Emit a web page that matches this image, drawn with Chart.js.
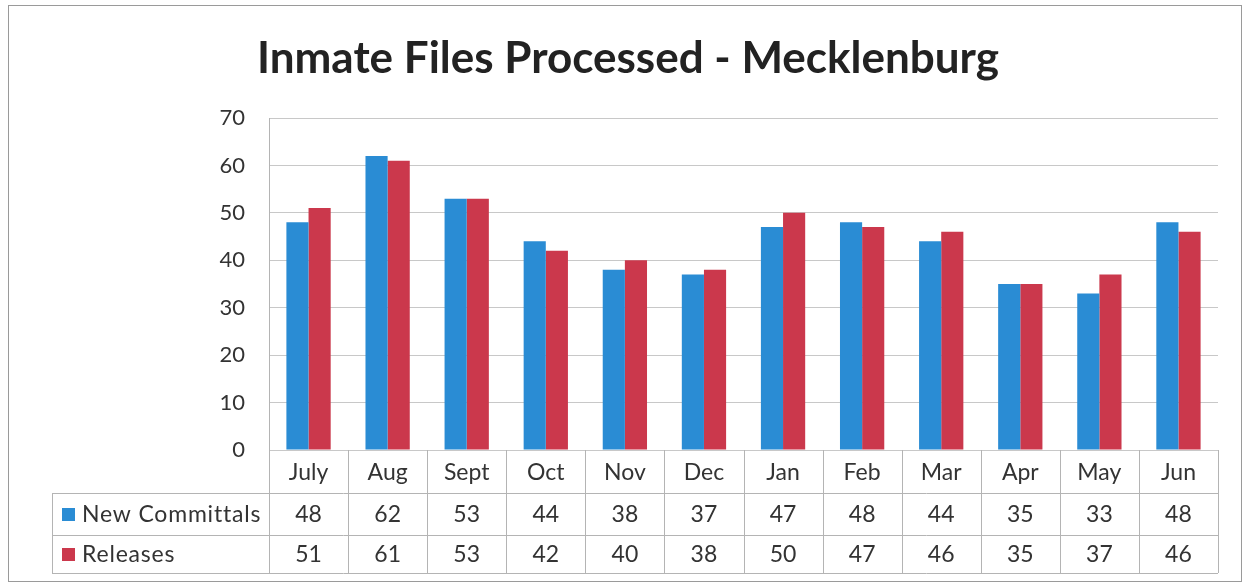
<!DOCTYPE html>
<html>
<head>
<meta charset="utf-8">
<script src="https://cdn.jsdelivr.net/npm/chart.js@4/dist/chart.umd.min.js"></script>
<style>
  html, body { margin: 0; padding: 0; background: #fff; }
  #wrap { width: 1249px; height: 588px; position: relative; }
  #frame { position: absolute; left: 8px; top: 5px; width: 1234px; height: 577px; border: 1.5px solid #9a9a9a; box-sizing: border-box; }
</style>
</head>
<body>
<div id="wrap">
  <canvas id="grafico" width="1249" height="588"></canvas>
  <div id="frame"></div>
</div>
<script>
const TITULO = "Inmate Files Processed - Mecklenburg";
const MESES = ["July", "Aug", "Sept", "Oct", "Nov", "Dec", "Jan", "Feb", "Mar", "Apr", "May", "Jun"];
const NOVOS = [48, 62, 53, 44, 38, 37, 47, 48, 44, 35, 33, 48];
const SAIDAS = [51, 61, 53, 42, 40, 38, 50, 47, 46, 35, 37, 46];
const Y_TICKS = [0, 10, 20, 30, 40, 50, 60, 70];

const AZUL = "#2a8cd4";
const VERMELHO = "#cb384c";
const FONTE = "Lato, 'Open Sans', sans-serif";

// titulo desenhado a mao para ficar centrado como no original
const titulo = {
  id: "titulo",
  afterDraw(chart) {
    const ctx = chart.ctx;
    ctx.save();
    ctx.fillStyle = "#222";
    ctx.font = "bold 44px " + FONTE;
    ctx.textAlign = "center";
    ctx.textBaseline = "alphabetic";
    ctx.fillText(TITULO, 628, 73);
    ctx.restore();
  }
};

// tabela de dados por baixo do grafico, alinhada com a escala x
const tabela = {
  id: "tabela",
  afterDraw(chart) {
    const ctx = chart.ctx;
    const area = chart.chartArea;
    const x = chart.scales.x;
    const w = (area.right - area.left) / MESES.length;
    const y0 = area.bottom, y1 = 493, y2 = 535, y3 = 573;
    const esq = 52;
    ctx.save();
    ctx.strokeStyle = "#b4b4b4";
    ctx.lineWidth = 1;
    ctx.beginPath();
    for (let i = 0; i <= MESES.length; i++) {
      const px = Math.round(area.left + i * w) + 0.5;
      ctx.moveTo(px, y0); ctx.lineTo(px, y3);
    }
    ctx.moveTo(esq + 0.5, y1); ctx.lineTo(esq + 0.5, y3);
    [y1, y2, y3].forEach(function(yy) {
      ctx.moveTo(esq, yy + 0.5); ctx.lineTo(area.right, yy + 0.5);
    });
    ctx.stroke();

    ctx.fillStyle = "#333";
    ctx.font = "23px " + FONTE;
    ctx.textAlign = "center";
    ctx.textBaseline = "middle";
    MESES.forEach(function(m, i) {
      const cx = x.getPixelForValue(i);
      ctx.fillText(m, cx, (y0 + y1) / 2 + 1);
      ctx.fillText(String(NOVOS[i]), cx, (y1 + y2) / 2 + 1);
      ctx.fillText(String(SAIDAS[i]), cx, (y2 + y3) / 2 + 1);
    });

    ctx.textAlign = "left";
    ctx.letterSpacing = "0.8px";
    const linhas = [[chart.data.datasets[0], (y1 + y2) / 2], [chart.data.datasets[1], (y2 + y3) / 2]];
    linhas.forEach(function(l) {
      ctx.fillStyle = l[0].backgroundColor;
      ctx.fillRect(62, l[1] - 6, 13, 13);
      ctx.fillStyle = "#333";
      ctx.fillText(l[0].label, 82, l[1] + 1);
    });
    ctx.restore();
  }
};

new Chart(document.getElementById("grafico"), {
  type: "bar",
  data: {
    labels: MESES,
    datasets: [
      { label: "New Committals", data: NOVOS, backgroundColor: AZUL },
      { label: "Releases", data: SAIDAS, backgroundColor: VERMELHO }
    ]
  },
  options: {
    responsive: false,
    animation: false,
    layout: { padding: { left: 0, right: 31, top: 118, bottom: 138 } },
    datasets: { bar: { categoryPercentage: 0.56, barPercentage: 1 } },
    plugins: {
      legend: { display: false },
      tooltip: { enabled: false },
      title: { display: false }
    },
    scales: {
      x: { display: false },
      y: {
        min: 0, max: 70,
        afterFit(s) { s.width = 269; },
        afterBuildTicks(s) { s.ticks = Y_TICKS.map(function(v) { return { value: v }; }); },
        grid: { color: "#c8c8c8", drawTicks: false },
        border: { color: "#b4b4b4" },
        ticks: { color: "#333", padding: 24, font: { family: FONTE, size: 22 } }
      }
    }
  },
  plugins: [titulo, tabela]
});
</script>
</body>
</html>
